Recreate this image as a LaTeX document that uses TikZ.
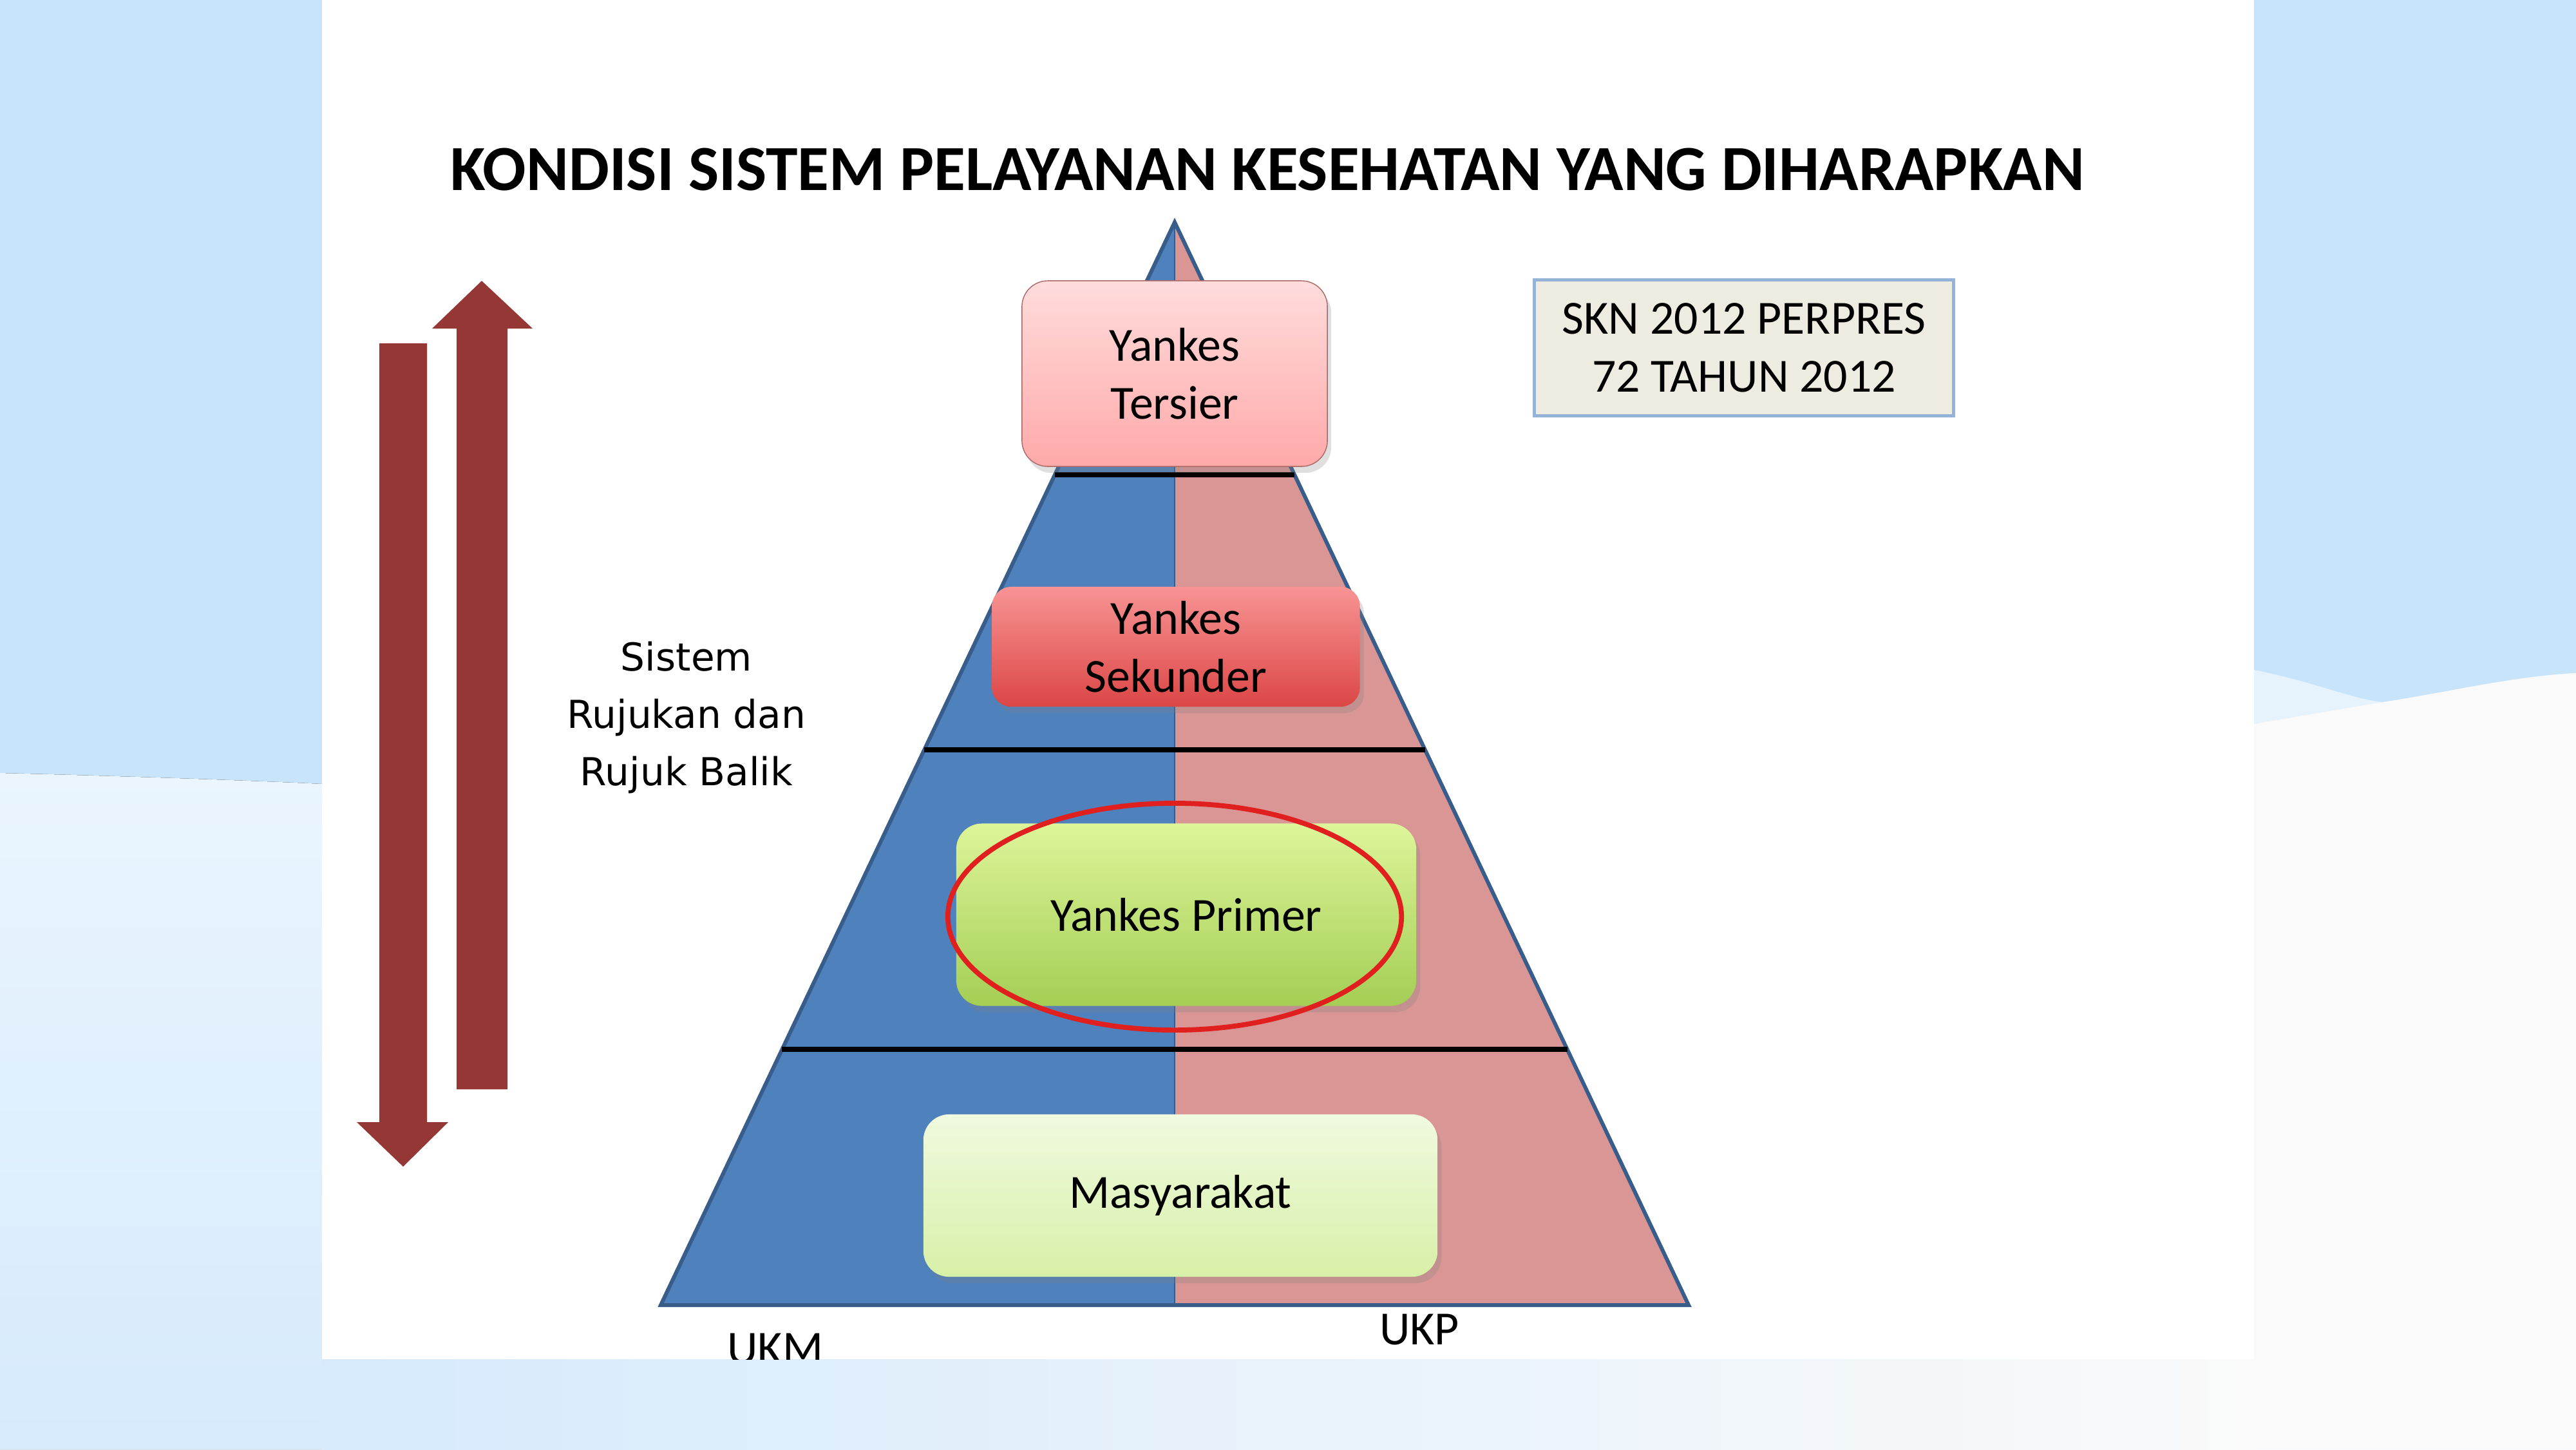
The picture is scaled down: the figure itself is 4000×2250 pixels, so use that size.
\documentclass[tikz,border=0pt]{standalone}
\usepackage{fontspec}
\setmainfont{Carlito}
\newfontfamily\sidefont{DejaVu Sans}
\usetikzlibrary{calc,shapes.geometric,shadows}
\definecolor{bgblue}{HTML}{C8E4FA}
\definecolor{wavetop}{HTML}{EAF5FE}
\definecolor{wavebot}{HTML}{D6EAFC}
\definecolor{ukmblue}{HTML}{4F81BD}
\definecolor{ukppink}{HTML}{D99694}
\definecolor{edgeblue}{HTML}{385D8A}
\definecolor{arrowred}{HTML}{953735}
\definecolor{focusred}{HTML}{E01F1F}
\definecolor{sknfill}{HTML}{EEECE1}
\definecolor{sknborder}{HTML}{95B3D7}
\definecolor{tertop}{HTML}{FFDCDC}
\definecolor{terbot}{HTML}{FFA9A9}
\definecolor{sektop}{HTML}{F89494}
\definecolor{sekbot}{HTML}{DC4646}
\definecolor{primtop}{HTML}{DDF59A}
\definecolor{primbot}{HTML}{A5CE55}
\definecolor{masytop}{HTML}{F0FADF}
\definecolor{masybot}{HTML}{D7F0A8}

\begin{document}
\begin{tikzpicture}[
	x = 0.01cm, y = -0.01cm,
	box/.style = {rounded corners=4mm, align=center, inner sep=0pt,
		font=\fontsize{21}{25.5}\selectfont,
		drop shadow={shadow xshift=0.6mm, shadow yshift=-1mm, opacity=0.25}},
	tersier/.style = {box, draw=red!45!black!60, top color=tertop, bottom color=terbot},
	sekunder/.style = {box, rounded corners=3mm, draw=none, top color=sektop, bottom color=sekbot},
	primer/.style = {box, draw=none, top color=primtop, bottom color=primbot},
	masy/.style = {box, draw=none, top color=masytop, bottom color=masybot},
	lvl/.style = {line width=2.2pt, black},
	bigarrow/.style = {fill=arrowred}
]
\useasboundingbox (0,0) rectangle (4000,2250);
\fill[bgblue] (0,0) rectangle (4000,2250);
\fill[top color=wavetop, bottom color=wavebot] (0,1200) .. controls (200,1205) and (400,1212) .. (500,1217) -- (500,2250) -- (0,2250) -- cycle;
\fill[bgblue!45!white] (3500,1040) .. controls (3600,1060) and (3650,1085) .. (3700,1090) .. controls (3800,1075) and (3900,1050) .. (4000,1045) -- (4000,2250) -- (3500,2250) -- cycle;
\fill[black!2!white] (3500,1124) -- (3700,1090) .. controls (3800,1075) and (3900,1050) .. (4000,1045) -- (4000,2250) -- (3500,2250) -- cycle;
\fill[left color=wavebot, right color=black!2!white] (500,2110) rectangle (3500,2250);
\fill[white] (500,0) rectangle (3500,2110);

\node[font=\fontsize{28.4}{34}\selectfont\bfseries] (title) at (1968,263) {KONDISI SISTEM PELAYANAN KESEHATAN YANG DIHARAPKAN};

\coordinate (apex) at (1824,345);
\coordinate (bl) at (1026,2026);
\coordinate (br) at (2622,2026);
\coordinate (bm) at (1824,2026);
\fill[ukmblue] (apex) -- (bl) -- (bm) -- cycle;
\fill[ukppink] (apex) -- (bm) -- (br) -- cycle;
\draw[edgeblue, line width=0.8pt] (apex) -- (bm);
\draw[edgeblue, line width=1.7pt] (apex) -- (bl) -- (br) -- cycle;
\foreach \f in {0.233,0.487,0.764}
	\draw[lvl] ($(apex)!\f!(bl)$) -- ($(apex)!\f!(br)$);

\node[tersier, minimum width=4.74cm, minimum height=2.88cm] (ters) at (1824,580) {Yankes\\Tersier};
\node[sekunder, minimum width=5.71cm, minimum height=1.86cm] (seku) at (1826,1004) {Yankes\\Sekunder};
\node[primer, minimum width=7.14cm, minimum height=2.83cm] (prim) at (1842,1420) {Yankes Primer};
\node[masy, minimum width=7.98cm, minimum height=2.52cm] (masy) at (1833,1856) {Masyarakat};
\node[draw=focusred, line width=2.2pt, ellipse, minimum width=7.04cm, minimum height=3.52cm] (focus) at (1824,1423) {};

\node[draw=sknborder, fill=sknfill, line width=1.5pt, minimum width=6.5cm, minimum height=2.11cm,
	align=center, font=\fontsize{21}{25.5}\selectfont] (skn) at (2708,540) {SKN 2012 PERPRES\\72 TAHUN 2012};

\node[font=\sidefont\fontsize{17}{25.3}\selectfont, align=center] (rujuk) at (1066,1114) {Sistem\\Rujukan dan\\Rujuk Balik};

\fill[bigarrow] (589,533) -- (663,533) -- (663,1742) -- (696,1742) -- (626,1811) -- (554,1742) -- (589,1742) -- cycle;
\fill[bigarrow] (709,1691) -- (788,1691) -- (788,510) -- (827,510) -- (748,436) -- (671,510) -- (709,510) -- cycle;

\begin{scope}
	\clip (500,0) rectangle (3500,2110);
	\node[font=\fontsize{21}{25}\selectfont] (ukm) at (1204,2094) {UKM};
\end{scope}
\node[font=\fontsize{21}{25}\selectfont] (ukp) at (2204,2064) {UKP};
\end{tikzpicture}
\end{document}
